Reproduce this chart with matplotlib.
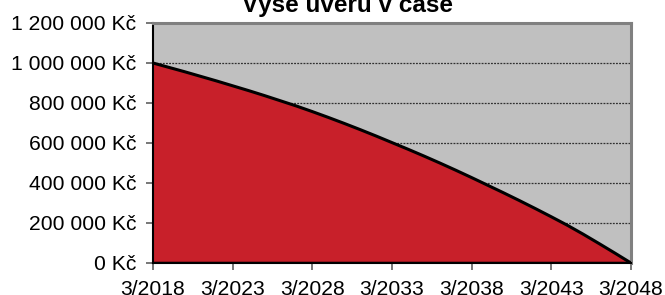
import matplotlib
matplotlib.use("Agg")
import matplotlib.pyplot as plt

# years since 3/2018 and remaining loan balance (Kč)
years = list(range(31))
balance = [1000000, 978000, 956000, 933000, 910000, 886000, 862000, 837000,
           811000, 785000, 757000, 728000, 698000, 667000, 635000, 602000,
           569000, 535000, 500000, 464000, 427000, 389000, 351000, 312000,
           272000, 231000, 189000, 144000, 97000, 49000, 0]

tick_years = [0, 5, 10, 15, 20, 25, 30]
tick_labels = ["3/2018", "3/2023", "3/2028", "3/2033", "3/2038", "3/2043", "3/2048"]
y_ticks = [0, 200000, 400000, 600000, 800000, 1000000, 1200000]

plt.rcParams["font.family"] = ["Liberation Sans", "DejaVu Sans"]

fig = plt.figure(figsize=(6.65, 2.95), dpi=100)
ax = fig.add_axes([153 / 665, 1 - 263 / 295, (631 - 153) / 665, (263 - 23) / 295])
ax.set_facecolor("#c0c0c0")

ax.fill_between(years, balance, 0, color="#c8202a", zorder=2)
ax.plot(years, balance, color="black", lw=2.2, zorder=3, solid_capstyle="butt")
ax.axhline(0, color="black", lw=2.5, zorder=4)

ax.set_xlim(0, 30)
ax.set_ylim(0, 1200000)
ax.set_xticks(tick_years)
ax.set_xticklabels(tick_labels)
ax.set_yticks(y_ticks)
ax.set_yticklabels([f"{v:,.0f}".replace(",", " ") + " Kč" for v in y_ticks])

for v in y_ticks[1:-1]:
    ax.axhline(v, color="#303030", lw=0.9, ls=(0, (1.5, 1)), zorder=1)

ax.tick_params(axis="both", labelsize=15.2, color="#606060", length=5, width=1.2)
ax.tick_params(axis="y", pad=7)
ax.tick_params(axis="x", pad=7)

ax.spines["left"].set_color("black")
ax.spines["left"].set_linewidth(1.5)
ax.spines["bottom"].set_color("black")
ax.spines["bottom"].set_linewidth(1.5)
for s in ("top", "right"):
    ax.spines[s].set_color("#808080")
    ax.spines[s].set_linewidth(2.2)

fig.text(347.5 / 665, 1 - 12 / 295, "Výše úvěru v čase", ha="center",
         va="baseline", fontsize=17.5, fontweight="bold")

fig.savefig("out.png", dpi=100)
